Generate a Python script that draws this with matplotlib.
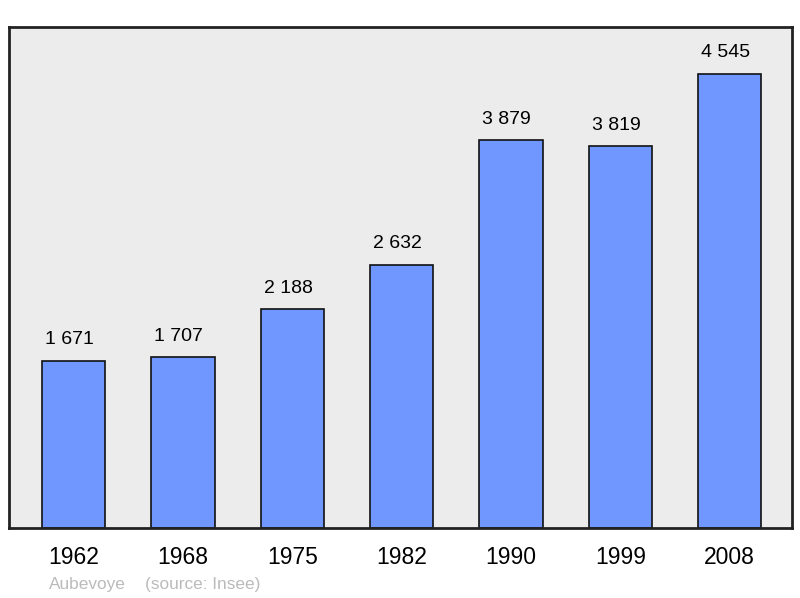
import matplotlib.pyplot as plt

years = ['1962', '1968', '1975', '1982', '1990', '1999', '2008']
population = [1671, 1707, 2188, 2632, 3879, 3819, 4545]
labels = ['1 671', '1 707', '2 188', '2 632', '3 879', '3 819', '4 545']

plt.rcParams['font.family'] = ['Liberation Sans', 'DejaVu Sans']

fig = plt.figure(figsize=(8, 5.98), dpi=100)
ax = fig.add_axes([9/800, 70/598, 783/800, 501/598])
ax.set_facecolor('#ececec')

x = range(len(years))
bars = ax.bar(x, population, width=0.58, color='#7096ff', edgecolor='#111111', linewidth=1.2)

# value labels above the bars
for b, lab in zip(bars, labels):
    ax.annotate(lab, (b.get_x() + b.get_width() / 2, b.get_height()),
                xytext=(-3, 9), textcoords='offset points',
                ha='center', va='bottom', fontsize=14)

ax.set_xlim(-0.59, 6.57)
ax.set_ylim(0, 5010)
ax.set_xticks(list(x))
ax.set_xticklabels(years, fontsize=16.5)
ax.tick_params(axis='x', length=0, pad=13)
ax.set_yticks([])
for s in ax.spines.values():
    s.set_linewidth(2)
    s.set_color('#222222')

fig.text(49/800, 1 - 584/598, 'Aubevoye', color='#bbbbbb', fontsize=12.4, va='center')
fig.text(145/800, 1 - 584/598, '(source: Insee)', color='#bbbbbb', fontsize=12.4, va='center')

fig.savefig('out.png', dpi=100)
